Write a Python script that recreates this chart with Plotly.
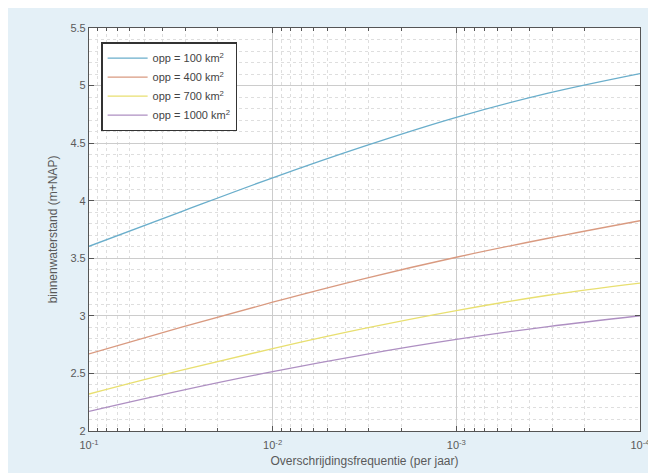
import plotly.graph_objects as go

freq = [1e-1, 10**-1.5, 1e-2, 10**-2.5, 1e-3, 10**-3.5, 1e-4]
opp_100 = [3.604, 3.904, 4.199, 4.474, 4.724, 4.934, 5.104]
opp_400 = [2.669, 2.899, 3.119, 3.324, 3.509, 3.674, 3.826]
opp_700 = [2.321, 2.526, 2.716, 2.891, 3.046, 3.179, 3.285]
opp_1000 = [2.171, 2.351, 2.516, 2.664, 2.795, 2.907, 3.001]

series_names = ["opp = 100 km<sup>2</sup>", "opp = 400 km<sup>2</sup>",
                "opp = 700 km<sup>2</sup>", "opp = 1000 km<sup>2</sup>"]
series_vals = [opp_100, opp_400, opp_700, opp_1000]
colors = ["#6aaecb", "#d99a80", "#e8df70", "#ae8fc2"]

x_tickvals = [1e-1, 1e-2, 1e-3, 1e-4]
x_ticktext = ["10<sup>-1</sup>", "10<sup>-2</sup>", "10<sup>-3</sup>", "10<sup>-4</sup>"]
y_tickvals = [2, 2.5, 3, 3.5, 4, 4.5, 5, 5.5]
y_ticktext = ["2", "2.5", "3", "3.5", "4", "4.5", "5", "5.5"]

fig = go.Figure()
for name, vals, col in zip(series_names, series_vals, colors):
    fig.add_trace(go.Scatter(x=freq, y=vals, mode="lines", name=name,
                             line=dict(color=col, width=1.3, shape="spline")))

font_color = "#5a5a5a"
fig.update_layout(
    width=656, height=473,
    paper_bgcolor="#e4f0f7", plot_bgcolor="#ffffff",
    margin=dict(l=81, r=24, t=20, b=50),
    font=dict(family="Liberation Sans, Arial, sans-serif", size=11, color=font_color),
    legend=dict(x=0.022, y=0.965, xanchor="left", yanchor="top",
                bgcolor="#ffffff", bordercolor="#333333", borderwidth=1.5,
                font=dict(size=11, color="#444444"), tracegroupgap=0,
                itemwidth=40),
    showlegend=True,
)
fig.update_xaxes(
    type="log", range=[-1, -4], tickvals=x_tickvals, ticktext=x_ticktext,
    showgrid=True, gridcolor="#cccccc", gridwidth=1,
    minor=dict(showgrid=True, gridcolor="#dedede", griddash="dot", dtick="D1",
               ticks="inside", ticklen=3, tickcolor="#555555"),
    ticks="inside", ticklen=5, tickcolor="#555555",
    showline=True, linecolor="#555555", linewidth=1.2, mirror="ticks",
    zeroline=False, ticklabelstandoff=4,
    title=dict(text="Overschrijdingsfrequentie (per jaar)", font=dict(size=12, color=font_color), standoff=6),
    tickfont=dict(size=11, color=font_color),
)
fig.update_yaxes(
    range=[2, 5.5], tickvals=y_tickvals, ticktext=y_ticktext,
    showgrid=True, gridcolor="#cccccc", gridwidth=1,
    minor=dict(showgrid=True, gridcolor="#dedede", griddash="dot", dtick=0.1,
               ticks="", tickcolor="#555555"),
    ticks="inside", ticklen=5, tickcolor="#555555",
    showline=True, linecolor="#555555", linewidth=1.2, mirror="ticks",
    zeroline=False,
    title=dict(text="binnenwaterstand (m+NAP)", font=dict(size=12, color=font_color), standoff=10),
    tickfont=dict(size=11, color=font_color),
)

fig.write_html("out.html")
